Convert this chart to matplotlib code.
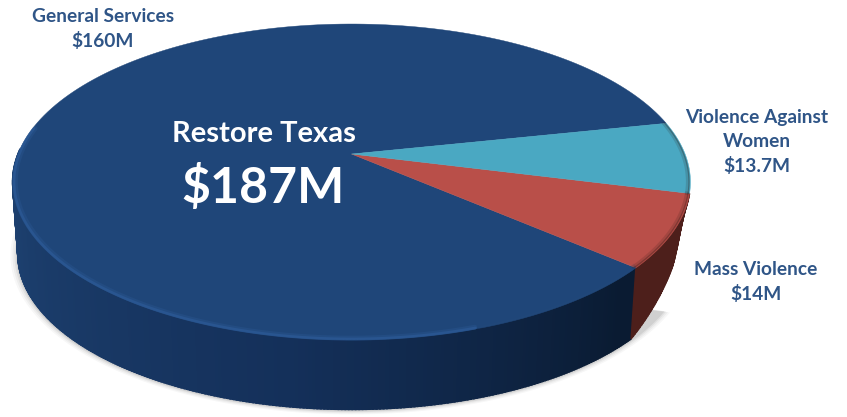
import numpy as np
import matplotlib
matplotlib.use('Agg')
import matplotlib.pyplot as plt
from matplotlib.colors import to_rgb

categories = ['General Services', 'Mass Violence', 'Violence Against\nWomen']
values = [160, 14, 13.7]
value_labels = ['$160M', '$14M', '$13.7M']
title_text = 'Restore Texas'
total_text = '$187M'

top_colors = ['#1f4679', '#b94f49', '#4aa8c2']
text_color = '#2f5587'

# perspective of the disc, in pixels
cx, cy = 351.5, 154
A, B, k = 153.0, 333.6, 0.177
depth = 73
start_angle = 12.0


def project(theta_deg, r=1.0, drop=0.0):
    t = np.radians(theta_deg)
    x = r * np.cos(t)
    y = r * np.sin(t)
    w = 1 + k * y
    return cx + B * x / w, cy - A * y / w + drop


def mix(c1, c2, f):
    return tuple(np.array(to_rgb(c1)) * (1 - f) + np.array(to_rgb(c2)) * f)


def side_color(i, th):
    # th goes 180 (left) to 360 (right)
    f = (th - 180) / 180.0
    if i == 0:
        if f < 0.45:
            return mix('#1f4474', '#14305a', f / 0.45)
        return mix('#14305a', '#0a1b32', min((f - 0.45) / 0.3, 1))
    return '#4d1f1b'


plt.rcParams['font.family'] = ['Lato', 'DejaVu Sans']
fig = plt.figure(figsize=(8.47, 4.17), dpi=100)
ax = fig.add_axes([0, 0, 1, 1])
ax.set_xlim(0, 847)
ax.set_ylim(417, 0)
ax.axis('off')

# wedge limits from the values, going anticlockwise from start_angle
fracs = np.array(values) / np.sum(values) * 360
ends = start_angle + np.cumsum(fracs)
starts = ends - fracs

# soft shadow
ring = np.linspace(0, 360, 300)
for grow, alpha in zip([1.022, 1.016, 1.010, 1.005], [0.03, 0.04, 0.05, 0.07]):
    sx, sy = project(ring, r=0.985, drop=depth + 1)
    keep = (ring > 180) & (ring < 330)
    ax.fill(cx + (sx[keep] - cx) * grow, 233 + (sy[keep] - 233) * grow, color='k', alpha=alpha, lw=0)

# side wall as thin strips, only general services and mass violence have one
for i in range(2):
    a0, a1 = starts[i], ends[i]
    for th in np.arange(max(a0, 178), a1, 0.5):
        th2 = min(th + 0.7, a1)
        # the wall of the last slice tapers away at the right
        d1 = depth if i == 0 else np.interp(th, [a0, a0 + 16, a0 + 21, a1], [depth, 43, 25, 0])
        d2 = depth if i == 0 else np.interp(th2, [a0, a0 + 16, a0 + 21, a1], [depth, 43, 25, 0])
        x1, y1 = project(np.array([th, th2]))
        xb1, yb1 = project(th, r=0.985, drop=d1)
        xb2, yb2 = project(th2, r=0.985, drop=d2)
        c = side_color(i, th)
        ax.fill(np.r_[x1, xb2, xb1], np.r_[y1, yb2, yb1], color=c, lw=1.0, ec=c)

# top face
for i in range(len(values)):
    th = np.linspace(starts[i], ends[i], 200)
    x, y = project(th)
    ax.fill(np.r_[cx, x], np.r_[cy, y], color=top_colors[i], lw=0.3, ec=top_colors[i])

# bevel along the front rim
for i in range(len(values)):
    th = np.linspace(starts[i], ends[i], 300)
    if i == 0:
        th = th[(th % 360 > 170) & (th % 360 < 360)]
    for r, lw, alpha in [(0.992, 3.5, 0.25), (0.996, 2, 0.5)]:
        x, y = project(th, r=r)
        if i == 0:
            mask = x < 480
            ax.plot(x[mask], y[mask], color='#2f5f9e', lw=lw, alpha=alpha, solid_capstyle='round')
            ax.plot(x[~mask], y[~mask], color='#244a7c', lw=lw, alpha=alpha * 0.5)
        else:
            ax.plot(x, y, color='#2b1512', lw=lw - 1, alpha=alpha * 0.6)

# labels
ax.text(103, 29, categories[0] + '\n' + value_labels[0], color=text_color, fontsize=13.8,
        fontweight='bold', ha='center', va='center', linespacing=1.47)
ax.text(757, 142, categories[2] + '\n' + value_labels[2], color=text_color, fontsize=13.8,
        fontweight='bold', ha='center', va='center', linespacing=1.47)
ax.text(756, 282, categories[1] + '\n' + value_labels[1], color=text_color, fontsize=13.8,
        fontweight='bold', ha='center', va='center', linespacing=1.47)
ax.text(264, 134, title_text, color='white', fontsize=21, fontweight='bold',
        ha='center', va='center')
ax.text(263, 187, total_text, color='white', fontsize=36, fontweight='bold',
        ha='center', va='center')

fig.savefig('out.png', dpi=100)
